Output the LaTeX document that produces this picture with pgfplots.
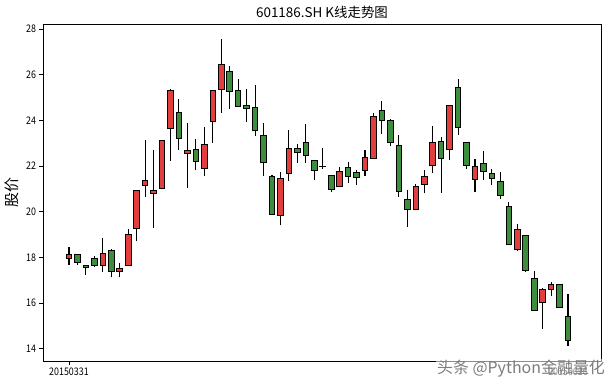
\documentclass[border=0pt]{standalone}
\usepackage{fontspec}
\setmainfont{Noto Sans CJK SC}
\newfontfamily\narrowfont[FakeStretch=0.85]{Noto Sans CJK SC}
\usepackage{pgfplots}
\usepackage{pgfplotstable}
\pgfplotsset{compat=1.18}
\definecolor{upc}{RGB}{226,62,62}
\definecolor{dnc}{RGB}{60,142,60}
\definecolor{wm}{RGB}{125,125,125}

\pgfplotstableread{
x o h l c
0 17.95 18.45 17.65 18.14
1 18.14 18.14 17.65 17.79
2 17.66 17.66 17.25 17.57
3 17.97 18.05 17.57 17.66
4 17.66 18.84 17.38 18.19
5 18.29 18.36 17.12 17.40
6 17.40 17.75 17.12 17.50
7 17.66 19.24 17.66 19.02
8 19.26 20.94 18.70 20.94
9 21.16 23.14 20.66 21.38
10 20.80 22.71 19.31 20.94
11 21.01 23.13 21.01 23.13
12 23.65 25.36 22.24 25.32
13 24.35 24.94 22.72 23.22
14 22.55 23.87 21.06 22.69
15 22.74 23.19 21.85 22.21
16 21.90 23.71 21.58 22.95
17 23.95 25.32 23.03 25.32
18 25.35 27.56 24.34 26.45
19 26.15 26.37 24.51 25.27
20 25.32 25.84 24.60 24.62
21 24.66 25.36 23.95 24.53
22 24.57 25.54 23.33 23.57
23 23.35 23.87 21.55 22.17
24 21.55 21.60 19.89 19.89
25 19.85 21.74 19.40 21.47
26 21.69 23.57 21.36 22.78
27 22.78 22.95 22.15 22.60
28 23.04 23.83 22.15 22.47
29 22.25 22.25 21.38 21.82
30 22.00 22.79 21.89 21.98
31 21.60 21.60 20.85 20.99
32 21.12 21.96 21.12 21.77
33 21.95 22.17 21.28 21.55
34 21.73 21.82 21.19 21.51
35 21.82 22.69 21.55 22.36
36 22.34 24.31 22.34 24.18
37 24.44 24.85 23.42 24.00
38 24.00 24.08 22.87 23.04
39 22.91 23.35 20.66 20.90
40 20.55 20.94 19.35 20.11
41 20.11 21.20 20.11 21.12
42 21.20 21.82 20.81 21.55
43 22.04 23.74 21.69 23.04
44 23.09 23.26 20.84 22.34
45 22.74 24.66 22.25 24.66
46 25.45 25.84 23.35 23.70
47 23.04 23.04 21.86 22.04
48 21.42 22.30 20.88 21.99
49 22.12 22.65 21.38 21.77
50 21.69 21.86 21.16 21.47
51 21.34 21.73 20.55 20.72
52 20.24 20.42 18.58 18.58
53 18.36 19.45 18.29 19.24
54 18.97 18.97 17.35 17.44
55 17.09 17.40 15.65 15.69
56 16.04 16.65 14.86 16.61
57 16.61 16.92 16.30 16.83
58 16.83 16.83 15.78 15.81
59 15.43 16.41 14.13 14.38
}\candles

\begin{document}
\begin{tikzpicture}
\path[use as bounding box] (0,0) rectangle (611bp,385bp);
\begin{axis}[
  at={(43bp,24bp)}, anchor=south west,
  width=558bp, height=337bp, scale only axis,
  xmin=-3.07, xmax=62.9,
  ymin=13.46, ymax=28.23,
  axis line style={black, line width=0.8bp},
  tick pos=left,
  tick align=outside,
  major tick length=3.5bp,
  every tick/.style={black, line width=0.8bp},
  ytick={14,16,...,28},
  xtick={0,59},
  xticklabels={20150331,20150626},
  /pgf/number format/assume math mode=true,
  tick label style={font=\narrowfont\fontsize{10.5}{12}\selectfont},
  title={601186.SH K线走势图},
  every axis title/.style={at={(axis description cs:0.5,1.034)}, anchor=center, font=\fontsize{13.5}{15}\selectfont},
  ylabel={股价},
  every axis y label/.style={at={(axis description cs:-0.0555,0.5)}, rotate=90, anchor=center, font=\fontsize{15}{17}\selectfont},
]
\pgfplotsinvokeforeach{0,...,59}{
  \pgfplotstablegetelem{#1}{o}\of\candles \let\cO\pgfplotsretval
  \pgfplotstablegetelem{#1}{h}\of\candles \let\cH\pgfplotsretval
  \pgfplotstablegetelem{#1}{l}\of\candles \let\cL\pgfplotsretval
  \pgfplotstablegetelem{#1}{c}\of\candles \let\cC\pgfplotsretval
  \pgfmathsetmacro\bTop{max(\cO,\cC)}
  \pgfmathsetmacro\bBot{min(\cO,\cC)}
  \pgfmathsetmacro\xL{#1-0.33}
  \pgfmathsetmacro\xR{#1+0.33}
  \ifdim\cC pt>\cO pt \def\cCol{upc}\else\def\cCol{dnc}\fi
  \edef\tmp{%
    \noexpand\addplot[forget plot, black, line width=1.1bp] coordinates {(#1,\cL) (#1,\cH)};
    \noexpand\addplot[forget plot, draw=black, fill=\cCol, line width=0.9bp] coordinates {(\xL,\bBot) (\xR,\bBot) (\xR,\bTop) (\xL,\bTop)} -- cycle;
  }\tmp
}
\end{axis}
\node[text=wm, fill=white, fill opacity=0.55, text opacity=1, inner sep=1bp, font=\fontsize{16}{18}\selectfont] at (521bp,16bp) {头条 @Python金融量化};
\end{tikzpicture}
\end{document}
